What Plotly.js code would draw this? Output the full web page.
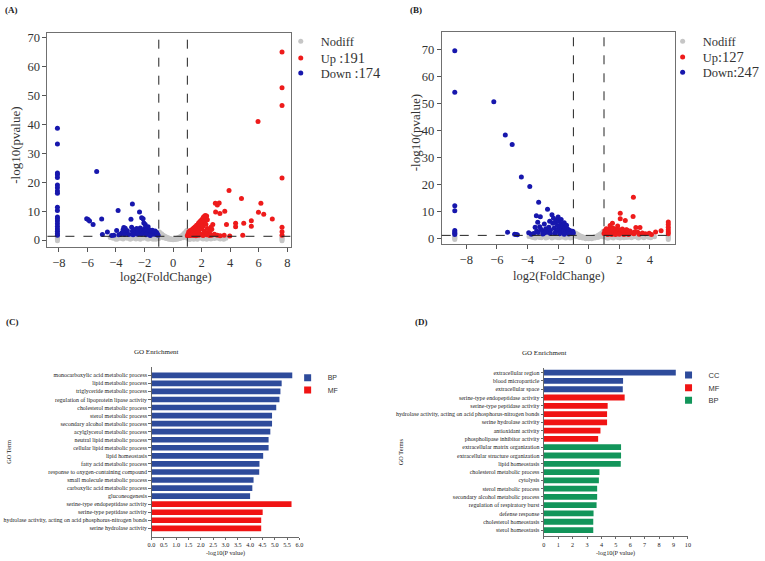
<!DOCTYPE html>
<html><head><meta charset="utf-8">
<script src="https://cdn.plot.ly/plotly-3.0.1.min.js"></script>
<style>html,body{margin:0;padding:0;background:#fff}#chart{width:765px;height:561px}</style>
</head><body><div id="chart"></div>
<script>
// ---------- Panel A (volcano) : [log2FC, -log10 p] ----------
var downA = [[-8.1,38.7],[-8.1,33.2],[-8.1,23.2],[-8.1,22.6],[-8.1,21.6],[-8.1,19.0],[-8.1,18.1],[-8.1,17.0],[-8.1,16.2],[-8.1,11.3],[-8.1,10.2],[-8.1,8.0],[-8.1,7.4],[-8.1,6.6],[-8.1,5.6],[-8.1,4.7],[-8.1,3.8],[-8.1,3.0],[-8.1,2.3],[-8.1,1.7],
 [-6.05,7.4],[-5.95,7.1],[-5.85,6.6],[-5.6,5.4],[-5.35,23.7],[-5.0,7.3],[-4.95,1.9],[-4.6,2.8],[-4.15,1.7],[-3.85,10.2],[-3.95,3.3],[-3.7,1.9],[-3.6,2.4],[-3.5,3.6],[-3.45,4.3],[-3.35,4.1],[-3.3,2.6],[-3.2,3.2],[-3.1,1.9],[-2.95,7.2],[-2.85,12.5],[-2.9,4.4],[-2.85,3.0],[-2.75,2.2],[-2.7,3.6],[-2.6,2.6],[-2.55,4.0],[-2.45,3.1],[-2.35,9.7],[-2.35,2.2],[-2.3,4.2],[-2.2,7.7],[-2.2,3.3],[-2.1,7.4],[-2.05,5.9],[-2.05,2.6],[-2.0,4.0],[-1.95,5.4],[-1.9,3.2],[-1.85,2.3],[-1.8,3.8],[-1.75,4.6],[-1.7,2.7],[-1.65,3.5],[-1.6,2.1],[-1.55,3.0],[-1.5,2.5],[-1.45,3.4],[-1.4,2.0],[-1.35,2.8],[-1.3,2.3],[-1.25,3.1],[-1.2,1.9],[-1.15,2.6],[-1.1,2.1],[-1.05,1.7],[-2.5,2.0],[-2.8,1.8],[-3.4,1.9],[-4.3,1.6],[-3.8,1.8],[-2.2,2.0],[-1.9,1.8],[-1.6,1.6]];
var upA = [[7.63,65.0],[7.63,52.7],[7.63,46.5],[7.63,21.5],[7.63,4.4],[7.63,2.9],[7.63,1.7],
 [5.95,41.0],[3.92,17.1],[4.79,14.4],[6.15,12.7],[2.96,12.7],[3.1,12.1],[3.23,12.8],[2.98,9.7],[3.28,9.2],[3.62,10.0],[5.98,9.6],[6.35,8.9],[6.95,7.3],[5.48,6.7],[4.38,5.8],[4.95,5.8],[3.74,5.4],[4.38,4.6],[5.48,4.8],[2.78,5.4],[2.71,3.7],[2.66,4.5],[3.58,1.7],[3.97,1.4],[4.88,1.7],
 [1.05,2.1],[1.1,2.9],[1.15,1.7],[1.2,3.3],[1.25,2.4],[1.3,1.9],[1.35,3.7],[1.4,2.7],[1.45,4.2],[1.5,3.0],[1.5,1.8],[1.55,4.6],[1.6,3.5],[1.6,2.2],[1.65,5.1],[1.7,4.0],[1.7,2.6],[1.75,5.5],[1.8,3.3],[1.8,6.0],[1.85,4.5],[1.9,6.5],[1.9,2.0],[1.95,5.2],[2.0,7.0],[2.0,3.8],[2.05,6.1],[2.1,7.6],[2.1,4.8],[2.15,8.1],[2.2,6.8],[2.2,3.0],[2.25,8.5],[2.3,7.7],[2.3,5.5],[2.35,8.3],[2.4,7.0],[2.4,4.0],[2.0,1.9],[2.5,2.5],[2.6,3.2],[2.2,2.2],[2.7,1.7],[1.2,1.6],[1.4,1.6],[1.6,1.5],[1.8,1.7],[2.1,1.6],[2.35,1.8],[2.55,1.6],[2.9,2.0],[3.1,1.7],[3.3,1.5],[1.0,1.5]];
var grayA = [[-4.4,0.9],[-4.3,1.1],[-4.2,0.6],[-4.1,1.2],[-4.0,0.8],[-3.9,0.4],[-3.8,1.1],[-3.7,0.7],[-3.6,1.2],[-3.5,0.4],[-3.4,0.9],[-3.3,1.2],[-3.2,0.6],[-3.1,1.0],[-3.0,0.3],[-2.9,1.2],[-2.8,0.7],[-2.7,1.0],[-2.6,0.4],[-2.5,1.2],[-2.4,0.8],[-2.3,0.3],[-2.2,1.1],[-2.1,0.6],[-2.0,1.2],[-1.9,0.9],[-1.8,0.4],[-1.7,1.2],[-1.6,0.7],[-1.5,1.0],[-1.4,0.3],[-1.3,1.2],[-1.2,0.8],[-1.1,1.1],[-1.0,0.5],
 [-4.0,0.3],[-3.6,0.6],[-3.3,0.8],[-2.9,0.5],[-2.5,0.6],[-2.1,0.9],[-1.7,0.4],[-1.5,0.6],[-1.2,0.3],[-1.05,1.2],
 [-0.95,2.8],[-0.9,2.3],[-0.85,1.8],[-0.8,2.2],[-0.75,1.5],[-0.7,1.7],[-0.65,1.2],[-0.6,1.4],[-0.55,0.9],[-0.5,1.1],[-0.45,0.7],[-0.4,0.9],[-0.35,0.5],[-0.3,0.7],[-0.2,0.5],[-0.1,0.4],[0,0.3],[0.1,0.4],[0.2,0.5],[0.3,0.7],[0.35,0.5],[0.4,0.9],[0.45,0.7],[0.5,1.2],[0.55,0.9],[0.6,1.5],[0.65,1.1],[0.7,1.9],[0.75,1.4],[0.8,2.4],[0.85,1.9],[0.9,2.9],[0.95,3.3],[0.92,2.2],[-0.9,1.2],[-0.7,0.8],[-0.5,0.5],[-0.3,0.3],[-0.15,0.2],[0,0.1],[0.15,0.2],[0.3,0.3],[0.5,0.5],[0.7,0.8],[0.88,1.2],
 [1.0,0.6],[1.1,1.1],[1.2,0.4],[1.3,0.9],[1.4,1.2],[1.5,0.6],[1.6,1.0],[1.7,0.3],[1.8,1.2],[1.9,0.7],[2.0,1.0],[2.1,0.4],[2.2,1.2],[2.3,0.8],[2.4,1.1],[2.5,0.5],[2.6,1.2],[2.7,0.8],[2.8,1.0],[2.9,0.5],[3.0,1.2],[3.1,0.7],[3.2,1.0],[3.3,0.4],[3.4,1.1],[3.5,0.7],[3.6,1.0],[3.7,0.6],[1.15,0.2],[1.45,0.3],[1.75,0.8],[2.05,0.6],[2.35,0.3],[2.65,0.4],[2.95,0.9],[3.25,0.6],[3.55,0.3],
 [-8.1,1.0],[-8.1,0.6],[-8.1,0.2],[-8.1,-0.2],[7.63,1.0],[7.63,0.6],[7.63,0.2],[7.63,-0.2]];

// ---------- Panel B (volcano) ----------
var downB = [[-8.75,69.7],[-8.75,54.3],[-8.75,12.3],[-8.75,10.4],[-8.75,3.1],[-8.75,2.6],[-8.75,2.1],[-8.75,1.6],
 [-6.2,50.8],[-5.45,38.5],[-5.0,35.0],[-4.4,22.9],[-3.85,19.4],[-3.27,13.6],[-2.69,11.0],[-3.42,8.6],[-3.16,8.2],[-3.33,6.2],[-5.3,2.5],[-4.84,1.7],[-4.66,1.5],[-4.75,1.6],[-3.92,2.3],[-3.75,1.7],
 [-3.5,4.3],[-3.4,3.0],[-3.3,2.4],[-3.2,4.5],[-3.1,3.5],[-3.0,2.8],[-2.9,5.5],[-2.8,3.8],[-2.7,2.5],[-2.6,4.3],[-2.55,6.5],[-2.5,3.2],[-2.4,8.9],[-2.35,5.8],[-2.3,7.6],[-2.25,4.0],[-2.2,6.2],[-2.15,2.8],[-2.1,7.0],[-2.05,5.0],[-2.0,8.1],[-2.0,3.5],[-1.95,6.5],[-1.9,4.6],[-1.85,2.6],[-1.8,7.2],[-1.8,5.5],[-1.75,3.8],[-1.7,4.8],[-1.65,3.0],[-1.6,6.0],[-1.55,4.2],[-1.5,3.4],[-1.5,2.3],[-1.45,5.1],[-1.4,3.8],[-1.35,2.7],[-1.3,3.3],[-1.25,2.2],[-1.2,3.0],[-1.15,2.5],[-1.1,2.0],[-1.05,2.8],[-1.0,2.2],[-2.9,2.2],[-3.6,2.0],[-2.5,2.0],[-2.2,2.1],[-1.9,1.9],[-1.6,1.7],[-1.3,1.8],[-3.0,1.8]];
var upB = [[5.2,6.3],[5.2,5.3],[5.2,4.3],[5.2,3.4],[5.2,2.6],[5.2,1.9],
 [2.92,15.4],[2.06,9.5],[2.9,8.3],[2.39,6.8],[2.06,7.5],[1.55,5.8],[1.89,4.8],[3.08,4.2],[3.35,4.2],[4.73,3.0],[4.37,2.6],[3.95,2.1],[3.7,1.9],[3.5,2.2],[3.2,2.5],[2.7,2.9],[2.5,3.3],
 [1.0,2.0],[1.05,3.0],[1.1,2.4],[1.15,3.8],[1.2,1.8],[1.25,2.9],[1.3,3.5],[1.35,2.2],[1.4,4.1],[1.45,2.7],[1.5,3.2],[1.55,1.9],[1.6,3.9],[1.65,2.5],[1.7,3.0],[1.75,2.1],[1.8,3.6],[1.85,2.4],[1.9,2.9],[2.0,3.4],[2.05,2.2],[2.1,2.7],[2.2,3.7],[2.25,2.3],[2.3,2.9],[2.4,2.0],[2.45,3.4],[2.55,2.4],[2.65,2.0],[2.8,2.3],[2.95,1.9],[3.0,2.6],[1.25,1.6],[1.5,1.6],[1.75,1.6],[2.0,1.7],[2.3,1.6],[2.6,1.6],[3.3,1.7],[4.1,1.6],[1.4,5.0]];
var grayB = [[-3.9,0.9],[-3.8,1.2],[-3.7,0.6],[-3.6,1.0],[-3.5,0.3],[-3.4,1.2],[-3.3,0.7],[-3.2,1.0],[-3.1,0.4],[-3.0,1.2],[-2.9,0.8],[-2.8,1.1],[-2.7,0.5],[-2.6,1.2],[-2.5,0.8],[-2.4,0.3],[-2.3,1.1],[-2.2,0.6],[-2.1,1.2],[-2.0,0.9],[-1.9,0.4],[-1.8,1.2],[-1.7,0.7],[-1.6,1.0],[-1.5,0.3],[-1.4,1.2],[-1.3,0.8],[-1.2,1.1],[-1.1,0.5],[-1.0,1.2],[-3.6,0.5],[-3.2,0.5],[-2.8,0.3],[-2.4,0.7],[-2.0,0.4],[-1.6,0.6],[-1.2,0.3],
 [-0.95,2.6],[-0.9,2.1],[-0.85,1.7],[-0.8,2.0],[-0.75,1.4],[-0.7,1.6],[-0.65,1.1],[-0.6,1.3],[-0.55,0.8],[-0.5,1.0],[-0.45,0.7],[-0.4,0.8],[-0.3,0.6],[-0.2,0.4],[-0.1,0.3],[0,0.2],[0.1,0.3],[0.2,0.4],[0.3,0.6],[0.4,0.8],[0.45,0.6],[0.5,1.0],[0.55,0.8],[0.6,1.3],[0.65,1.0],[0.7,1.6],[0.75,1.2],[0.8,2.0],[0.85,1.6],[0.9,2.4],[0.95,2.8],[-0.8,0.9],[-0.6,0.5],[-0.4,0.3],[-0.2,0.1],[0,0.05],[0.2,0.1],[0.4,0.3],[0.6,0.5],[0.8,0.9],
 [1.0,0.7],[1.1,1.2],[1.2,0.4],[1.3,1.0],[1.4,0.6],[1.5,1.2],[1.6,0.3],[1.7,0.9],[1.8,1.2],[1.9,0.5],[2.0,1.0],[2.1,0.7],[2.2,1.2],[2.3,0.4],[2.4,0.9],[2.5,1.2],[2.6,0.6],[2.7,1.0],[2.8,0.4],[2.9,1.2],[3.0,0.8],[3.1,1.1],[3.2,0.5],[3.3,1.0],[3.4,0.7],[3.5,1.2],[3.6,0.4],[3.7,0.9],[3.8,1.1],[3.9,0.6],[4.0,1.0],[4.1,0.7],[4.2,0.9],[4.3,0.8],[1.25,0.2],[1.65,0.6],[2.05,0.3],[2.45,0.5],[2.85,0.8],[3.25,0.3],[3.65,0.7],[4.05,0.4],
 [-8.75,1.0],[-8.75,0.6],[-8.75,0.2],[-8.75,-0.2],[5.2,1.0],[5.2,0.6],[5.2,0.2],[5.2,-0.2]];

var fcThreshold = 1;      // |log2FC| cut-off
var pThreshold = 1.3;     // -log10(0.05)

// ---------- Panel C (GO enrichment) ----------
var termsC_BP = ["monocarboxylic acid metabolic process","lipid metabolic process","triglyceride metabolic process","regulation of lipoprotein lipase activity","cholesterol metabolic process","sterol metabolic process","secondary alcohol metabolic process","acylglycerol metabolic process","neutral lipid metabolic process","cellular lipid metabolic process","lipid homeostasis","fatty acid metabolic process","response to oxygen-containing compound","small molecule metabolic process","carboxylic acid metabolic process","gluconeogenesis"];
var valuesC_BP = [5.71,5.28,5.23,5.19,5.06,4.89,4.89,4.82,4.75,4.75,4.53,4.38,4.37,4.14,4.09,4.00];
var termsC_MF = ["serine-type endopeptidase activity","serine-type peptidase activity","hydrolase activity, acting on acid phosphorus-nitrogen bonds","serine hydrolase activity"];
var valuesC_MF = [5.68,4.51,4.45,4.45];
var ticksC = [0,0.5,1,1.5,2,2.5,3,3.5,4,4.5,5,5.5,6];

// ---------- Panel D (GO enrichment) ----------
var termsD_CC = ["extracellular region","blood microparticle","extracellular space"];
var valuesD_CC = [9.16,5.50,5.48];
var termsD_MF = ["serine-type endopeptidase activity","serine-type peptidase activity","hydrolase activity, acting on acid phosphorus-nitrogen bonds","serine hydrolase activity","antioxidant activity","phospholipase inhibitor activity"];
var valuesD_MF = [5.61,4.43,4.39,4.39,3.93,3.77];
var termsD_BP = ["extracellular matrix organization","extracellular structure organization","lipid homeostasis","cholesterol metabolic process","cytolysis","sterol metabolic process","secondary alcohol metabolic process","regulation of respiratory burst","defense response","cholesterol homeostasis","sterol homeostasis"];
var valuesD_BP = [5.36,5.36,5.34,3.86,3.82,3.70,3.70,3.66,3.45,3.43,3.43];
var ticksD = [0,1,2,3,4,5,6,7,8,9,10];

// ---------- build ----------
var SERIF = "Liberation Serif, Times New Roman, serif";
var SANS = "Liberation Sans, Arial, sans-serif";
var cGray = "#c6c6c6", cUp = "#ee1b1b", cDown = "#1717ad";
var gBlue = "#2e4b9b", gRed = "#f01414", gGreen = "#12955a";
function xs(p){return p.map(function(d){return d[0];});}
function ys(p){return p.map(function(d){return d[1];});}

function pts(data, ax, ay, name, color, leg){
  return {type:"scatter", mode:"markers", x:xs(data), y:ys(data), xaxis:ax, yaxis:ay, name:name,
    marker:{color:color, size:5, line:{width:0}}, legend:leg, hoverinfo:"skip"};
}
function bar(terms, vals, ax, ay, color){
  return {type:"bar", orientation:"h", x:vals, y:terms, xaxis:ax, yaxis:ay, marker:{color:color, line:{width:0}}, showlegend:false, hoverinfo:"skip"};
}
function proxy(name, color, ax, ay, leg){
  return {type:"scatter", mode:"markers", x:[null], y:[null], xaxis:ax, yaxis:ay, name:name,
    marker:{symbol:"square", size:7, color:color}, legend:leg, hoverinfo:"skip"};
}

var big = "<span style='font-size:14.5px'>";
var traces = [
  pts(grayA,"x","y","Nodiff",cGray,"legend"),
  pts(upA,"x","y","Up "+big+":191</span>",cUp,"legend2"),
  pts(downA,"x","y","Down "+big+":174</span>",cDown,"legend3"),
  pts(grayB,"x2","y2","Nodiff",cGray,"legend4"),
  pts(upB,"x2","y2","Up"+big+":127</span>",cUp,"legend5"),
  pts(downB,"x2","y2","Down"+big+":247</span>",cDown,"legend6"),
  bar(termsC_BP,valuesC_BP,"x3","y3",gBlue),
  bar(termsC_MF,valuesC_MF,"x3","y3",gRed),
  proxy("BP",gBlue,"x3","y3","legend7"),
  proxy("MF",gRed,"x3","y3","legend8"),
  bar(termsD_CC,valuesD_CC,"x4","y4",gBlue),
  bar(termsD_MF,valuesD_MF,"x4","y4",gRed),
  bar(termsD_BP,valuesD_BP,"x4","y4",gGreen),
  proxy("CC",gBlue,"x4","y4","legend9"),
  proxy("MF",gRed,"x4","y4","legend10"),
  proxy("BP",gGreen,"x4","y4","legend11")
];

function volX(dom, rng, anchor){
  return {domain:dom, range:rng, anchor:anchor, tick0:-8, dtick:2, showline:true, mirror:true, linecolor:"#707070", linewidth:1,
    ticks:"outside", ticklen:4, tickcolor:"#555", tickfont:{family:SERIF, size:12.5, color:"#333"}, showgrid:false, zeroline:false};
}
function volY(dom, rng, anchor){
  return {domain:dom, range:rng, anchor:anchor, tick0:0, dtick:10, showline:true, mirror:true, linecolor:"#707070", linewidth:1,
    ticks:"outside", ticklen:4, tickcolor:"#555", tickfont:{family:SERIF, size:12.5, color:"#333"}, showgrid:false, zeroline:false};
}
function goX(dom, rng, anchor, tv, fmt){
  return {domain:dom, range:rng, anchor:anchor, tickvals:tv, tickformat:fmt, showline:true, linecolor:"#444", linewidth:0.8,
    ticks:"outside", ticklen:2.5, tickwidth:0.8, tickcolor:"#444", tickfont:{family:SERIF, size:6.2, color:"#222"}, showgrid:false, zeroline:false};
}
function goY(dom, rng, anchor, cats){
  return {domain:dom, range:rng, anchor:anchor, type:"category", categoryorder:"array", categoryarray:cats, showline:true, linecolor:"#444", linewidth:0.8,
    ticks:"outside", ticklen:2.5, tickwidth:0.8, tickcolor:"#444", tickfont:{family:SERIF, size:5.9, color:"#222"}, showgrid:false, zeroline:false};
}

function vline(ax, ay, xv){ return {type:"line", xref:ax, yref:ay+" domain", x0:xv, x1:xv, y0:0, y1:1, line:{color:"#222", width:1, dash:"dash"}}; }
function hline(ax, ay, yv){ return {type:"line", xref:ax+" domain", yref:ay, x0:0, x1:1, y0:yv, y1:yv, line:{color:"#222", width:1, dash:"dash"}}; }

function leg(x, y, fam, size){
  return {x:x, y:y, xanchor:"left", yanchor:"middle", bgcolor:"rgba(0,0,0,0)", borderwidth:0,
    font:{family:fam, size:size, color:"#333"}, itemsizing:"trace", itemclick:false, itemdoubleclick:false};
}
function ann(text, x, y, size, opts){
  var a = {text:text, x:x, y:y, xref:"paper", yref:"paper", showarrow:false, xanchor:"center", yanchor:"middle",
    font:{family:SERIF, size:size, color:"#222"}};
  for (var k in (opts||{})) a[k] = opts[k];
  return a;
}

var W = 765, H = 561;
function px(v){return v/W;} function py(v){return 1 - v/H;}

var layout = {
  width:W, height:H, margin:{l:0,r:0,t:0,b:0}, paper_bgcolor:"#fff", plot_bgcolor:"#fff",
  barmode:"overlay", bargap:0.3,
  xaxis: volX([px(48.3),px(296)],[-8.8,8.23],"y"),
  yaxis: volY([py(246.7),py(33.3)],[-2.3,71.5],"x"),
  xaxis2: volX([px(450),px(687.3)],[-9.6,5.62],"y2"),
  yaxis2: volY([py(244.3),py(32.3)],[-2.0,76.5],"x2"),
  xaxis3: goX([px(154.3),px(305)],[0,6],"y3",ticksC,".1f"),
  yaxis3: goY([py(536.7),py(366.7)],[20.04,-1.07],"x3",termsC_BP.concat(termsC_MF)),
  xaxis4: goX([px(554),px(700.7)],[0,10],"y4",ticksD,"d"),
  yaxis4: goY([py(536),py(367.7)],[19.72,-0.6],"x4",termsD_CC.concat(termsD_MF,termsD_BP)),
  shapes:[vline("x","y",-fcThreshold),vline("x","y",fcThreshold),hline("x","y",pThreshold),
          vline("x2","y2",-fcThreshold),vline("x2","y2",fcThreshold),hline("x2","y2",pThreshold)],
  legend:  leg(px(286),py(41.7),SERIF,12.5),
  legend2: leg(px(286),py(58.3),SERIF,12.5),
  legend3: leg(px(286),py(73.3),SERIF,12.5),
  legend4: leg(px(675),py(41.7),SERIF,12.5),
  legend5: leg(px(675),py(57.3),SERIF,12.5),
  legend6: leg(px(675),py(72.7),SERIF,12.5),
  legend7: leg(px(293),py(377.7),SANS,7),
  legend8: leg(px(293),py(390),SANS,7),
  legend9: leg(px(681),py(375),SANS,7.5),
  legend10:leg(px(681),py(387.7),SANS,7.5),
  legend11:leg(px(681),py(400.3),SANS,7.5),
  annotations:[
    ann("<b>(A)</b>",px(3),py(10),9,{xanchor:"left"}),
    ann("<b>(B)</b>",px(416),py(10),9,{xanchor:"left"}),
    ann("<b>(C)</b>",px(4),py(322),9,{xanchor:"left"}),
    ann("<b>(D)</b>",px(421),py(322),9,{xanchor:"left"}),
    ann("log2(FoldChange)",px(169),py(276.7),12.5,{font:{family:SERIF,size:12.5,color:"#333"}}),
    ann("log2(FoldChange)",px(569),py(276),12.5,{font:{family:SERIF,size:12.5,color:"#333"}}),
    ann("-log10(pvalue)",px(15),py(145),13,{textangle:-90,font:{family:SERIF,size:13,color:"#333"}}),
    ann("-log10(pvalue)",px(423),py(133),13,{textangle:-90,font:{family:SERIF,size:13,color:"#333"}}),
    ann("GO Enrichment",px(159.3),py(352),7),
    ann("GO Enrichment",px(555),py(352.7),7),
    ann("-log10(P value)",px(230),py(552.7),6.3),
    ann("-log10(P value)",px(627),py(552.7),6.3),
    ann("GO Term",px(9.3),py(451.7),6.3,{textangle:-90}),
    ann("GO Terms",px(408),py(451.7),6.3,{textangle:-90})
  ]
};

Plotly.newPlot("chart", traces, layout, {staticPlot:true, displayModeBar:false});
</script></body></html>
